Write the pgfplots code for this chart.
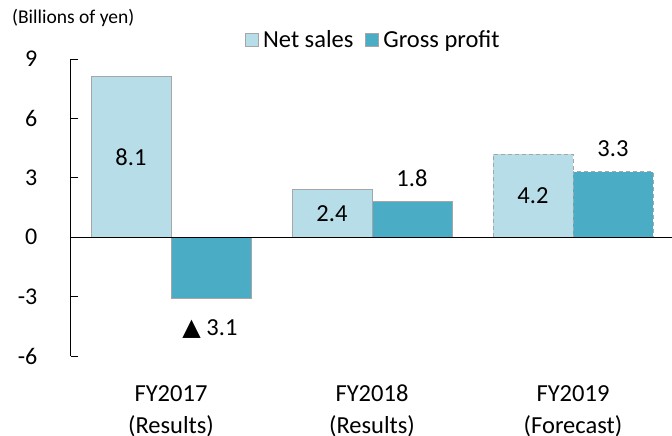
\documentclass[border=0pt]{standalone}
\usepackage{pgfplots}
\pgfplotsset{compat=1.18}
\usepackage{fontspec}
\setmainfont{Carlito}
\newfontfamily\sym{DejaVu Sans}
\definecolor{netc}{HTML}{B7DEE8}
\definecolor{grossc}{HTML}{4BACC6}
\definecolor{edgec}{HTML}{A6A6A6}
\begin{document}
\begin{tikzpicture}[x=1pt,y=1pt]
\path[use as bounding box] (0,0) rectangle (672,436);
\begin{axis}[
  at={(70.5pt,80pt)}, anchor=south west,
  scale only axis, width=603pt, height=297pt,
  xmin=-0.5, xmax=2.5, ymin=-6, ymax=9,
  axis y line*=left, axis x line*=bottom,
  x axis line style={draw=none},
  xtick={0,1,2}, xtick style={draw=none},
  xticklabels={{FY2017\\(Results)},{FY2018\\(Results)},{FY2019\\(Forecast)}},
  xticklabel style={align=center, font=\fontsize{24.5}{32}\selectfont, inner sep=0pt},
  xticklabel shift=22pt,
  ytick={-6,-3,0,3,6,9},
  yticklabels={-6,-3,0,3,6,9},
  every y tick label/.append style={font=\fontsize{24}{28}\selectfont, anchor=east, inner sep=0pt, xshift=-33pt},
  tick align=inside, major tick length=7pt,
  y axis line style={line width=0.8pt, black},
  ytick style={line width=0.8pt, black},
  ybar, bar width=80pt,
  legend style={at={(0.2894,1.064)}, anchor=west, draw=none, fill=none,
    legend columns=2, font=\fontsize{24.5}{28}\selectfont,
    inner sep=0pt, nodes={inner sep=4pt},
    /tikz/every even column/.append style={column sep=8pt}},
  legend image code/.code={\draw[#1] (0pt,-6.5pt) rectangle (13pt,6.5pt);},
]
\addplot[fill=netc, draw=edgec, line width=0.9pt, bar shift=-40pt] coordinates {(0,8.1) (1,2.4)};
\addlegendentry{Net sales}
\addplot[fill=grossc, draw=edgec, line width=0.9pt, bar shift=40pt] coordinates {(0,-3.1) (1,1.8)};
\addlegendentry{Gross profit}
\addplot[fill=netc, draw=edgec, line width=0.9pt, dash pattern=on 4pt off 3pt, bar shift=-40pt, forget plot] coordinates {(2,4.2)};
\addplot[fill=grossc, draw=edgec, line width=0.9pt, dash pattern=on 4pt off 3pt, bar shift=40pt, forget plot] coordinates {(2,3.3)};
\draw[black, line width=1pt] (axis cs:-0.5,0) -- (axis cs:2.5,0);
\begin{scope}[font=\fontsize{24.5}{28}\selectfont]
\node at ([xshift=-40pt]axis cs:0,4.05) {8.1};
\node at ([xshift=39pt,yshift=-30pt]axis cs:0,-3.1) {{\sym\fontsize{24}{26}\selectfont ▲} 3.1};
\node at ([xshift=-40pt]axis cs:1,1.2) {2.4};
\node at ([xshift=40pt,yshift=23pt]axis cs:1,1.8) {1.8};
\node at ([xshift=-40pt]axis cs:2,2.1) {4.2};
\node at ([xshift=40pt,yshift=23pt]axis cs:2,3.3) {3.3};
\end{scope}
\end{axis}
\node[anchor=west, inner sep=0pt, font=\fontsize{19.5}{23}\selectfont] at (12,418) {(Billions of yen)};
\end{tikzpicture}
\end{document}
